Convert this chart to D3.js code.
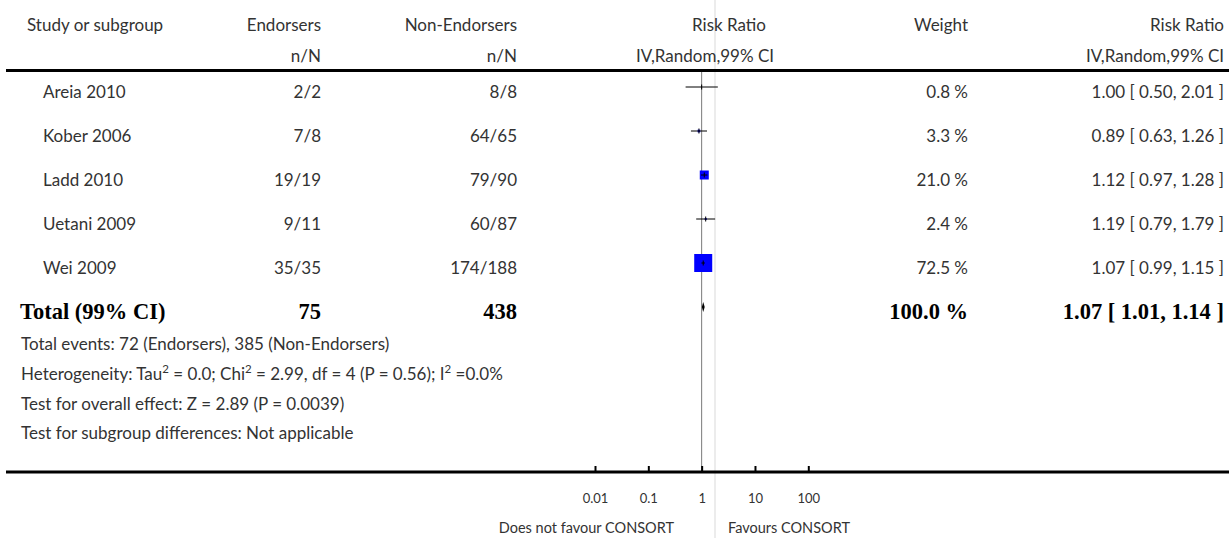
<!DOCTYPE html>
<html>
<head>
<meta charset="utf-8">
<script src="https://cdn.jsdelivr.net/npm/d3@7/dist/d3.min.js"></script>
<style>
  html, body { margin: 0; padding: 0; background: #fff; }
  svg { display: block; }
  .txt { font-family: Lato, "Open Sans", sans-serif; fill: #333; }
  .bold { font-family: "Liberation Serif", "Times New Roman", serif; font-weight: bold; fill: #000; }
</style>
</head>
<body>
<svg id="chart" width="1229" height="538"></svg>
<script>
// Study rows
const studies = ["Areia 2010", "Kober 2006", "Ladd 2010", "Uetani 2009", "Wei 2009"];
const endorsers = ["2/2", "7/8", "19/19", "9/11", "35/35"];
const nonEndorsers = ["8/8", "64/65", "79/90", "60/87", "174/188"];
const weights = [0.8, 3.3, 21.0, 2.4, 72.5];
const riskRatio = [1.00, 0.89, 1.12, 1.19, 1.07];
const ciLower = [0.50, 0.63, 0.97, 0.79, 0.99];
const ciUpper = [2.01, 1.26, 1.28, 1.79, 1.15];

// Pooled estimate
const totalLabel = "Total (99% CI)";
const totalEndorsers = 75;
const totalNonEndorsers = 438;
const totalWeight = 100.0;
const totalRR = 1.07;
const totalLower = 1.01;
const totalUpper = 1.14;

// Axis
const tickValues = [0.01, 0.1, 1, 10, 100];
const tickLabels = ["0.01", "0.1", "1", "10", "100"];

const svg = d3.select("#chart");
const W = 1229;
const FS = 17;      // body text size
const BFS = 22.5;   // bold total row size

// Column anchors
const colStudy = 43, colStudyHead = 27, colEnd = 321, colNon = 517, colWeight = 968, colRR = 1224;

const x = d3.scaleLog().domain([0.01, 100]).range([595, 808.3]);
const rows = studies.concat([totalLabel]);
const y = d3.scalePoint().domain(rows).range([87, 307]);

const fmt2 = d3.format(".2f");
const fmt1 = d3.format(".1f");
const ciText = (r, l, u) => `${fmt2(r)} [ ${fmt2(l)}, ${fmt2(u)} ]`;

// faint vertical rule
svg.append("line").attr("x1", 715).attr("x2", 715).attr("y1", 0).attr("y2", 538)
  .attr("stroke", "#ececec").attr("stroke-width", 2);

function txt(xp, yp, s, anchor, size, cls) {
  return svg.append("text").attr("class", cls || "txt").attr("x", xp).attr("y", yp)
    .attr("text-anchor", anchor || "start").attr("font-size", size || FS).text(s);
}

// Header
txt(colStudyHead, 31, "Study or subgroup");
txt(colEnd, 31, "Endorsers", "end");
txt(colNon, 31, "Non-Endorsers", "end");
txt(colEnd, 62, "n/N", "end");
txt(colNon, 62, "n/N", "end");
txt(729, 31, "Risk Ratio", "middle");
txt(705, 62, "IV,Random,99% CI", "middle");
txt(colWeight, 31, "Weight", "end");
txt(colRR, 31, "Risk Ratio", "end");
txt(colRR, 62, "IV,Random,99% CI", "end");

// Header rule
svg.append("line").attr("x1", 6).attr("x2", W).attr("y1", 70.5).attr("y2", 70.5)
  .attr("stroke", "#000").attr("stroke-width", 3.2);

// Reference line at RR = 1
svg.append("line").attr("x1", x(1)).attr("x2", x(1)).attr("y1", 72).attr("y2", 472)
  .attr("stroke", "#7a7a7a").attr("stroke-width", 1);

// Study rows
const textOff = 11;
studies.forEach((s, i) => {
  const yy = y(s);
  txt(colStudy, yy + textOff, s);
  txt(colEnd, yy + textOff, endorsers[i], "end");
  txt(colNon, yy + textOff, nonEndorsers[i], "end");
  txt(colWeight, yy + textOff, fmt1(weights[i]) + " %", "end");
  txt(colRR, yy + textOff, ciText(riskRatio[i], ciLower[i], ciUpper[i]), "end");
});

// Weight squares
const side = d3.scaleSqrt().domain([0.42, 72.5]).range([0, 18]).clamp(true);
svg.append("g").selectAll("rect").data(studies).join("rect")
  .attr("x", (d, i) => x(riskRatio[i]) - side(weights[i]) / 2)
  .attr("y", (d, i) => y(d) - side(weights[i]) / 2)
  .attr("width", (d, i) => side(weights[i]))
  .attr("height", (d, i) => side(weights[i]))
  .attr("fill", "#0000ff");

// CI lines and centre ticks
const ci = svg.append("g").attr("stroke", "#000").attr("stroke-width", 1);
ci.selectAll("line.ci").data(studies).join("line").attr("class", "ci")
  .attr("x1", (d, i) => x(ciLower[i])).attr("x2", (d, i) => x(ciUpper[i]))
  .attr("y1", d => y(d)).attr("y2", d => y(d));
ci.selectAll("line.pt").data(studies).join("line").attr("class", "pt")
  .attr("x1", (d, i) => x(riskRatio[i])).attr("x2", (d, i) => x(riskRatio[i]))
  .attr("y1", d => y(d) - 2.5).attr("y2", d => y(d) + 2.5);

// Pooled diamond
const ty = y(totalLabel);
svg.append("path")
  .attr("d", d3.line()([[x(totalLower), ty], [x(totalRR), ty - 5], [x(totalUpper), ty], [x(totalRR), ty + 5]]) + "Z")
  .attr("fill", "#000");

// Total row text
const bOff = 12;
txt(20, ty + bOff, totalLabel, "start", BFS, "bold");
txt(colEnd, ty + bOff, String(totalEndorsers), "end", BFS, "bold");
txt(colNon, ty + bOff, String(totalNonEndorsers), "end", BFS, "bold");
txt(colWeight, ty + bOff, fmt1(totalWeight) + " %", "end", BFS, "bold");
txt(colRR, ty + bOff, ciText(totalRR, totalLower, totalUpper), "end", BFS, "bold");

// Footer statistics
txt(21, 350, "Total events: 72 (Endorsers), 385 (Non-Endorsers)");
const het = svg.append("text").attr("class", "txt").attr("x", 21).attr("y", 380).attr("font-size", FS);
het.append("tspan").text("Heterogeneity: Tau");
het.append("tspan").attr("font-size", 11.5).attr("dy", -7).text("2");
het.append("tspan").attr("dy", 7).text(" = 0.0; Chi");
het.append("tspan").attr("font-size", 11.5).attr("dy", -7).text("2");
het.append("tspan").attr("dy", 7).text(" = 2.99, df = 4 (P = 0.56); I");
het.append("tspan").attr("font-size", 11.5).attr("dy", -7).text("2");
het.append("tspan").attr("dy", 7).text(" =0.0%");
txt(21, 410, "Test for overall effect: Z = 2.89 (P = 0.0039)");
txt(21, 439, "Test for subgroup differences: Not applicable");

// Bottom axis
svg.append("line").attr("x1", 6).attr("x2", W).attr("y1", 472).attr("y2", 472)
  .attr("stroke", "#000").attr("stroke-width", 3);
const axis = d3.axisBottom(x).tickValues(tickValues)
  .tickFormat((d, i) => tickLabels[i]).tickSizeInner(-6).tickSizeOuter(0).tickPadding(22);
const ag = svg.append("g").attr("transform", "translate(0,472)").call(axis);
ag.select(".domain").remove();
ag.selectAll(".tick line").attr("stroke", "#000").attr("stroke-width", 2);
ag.selectAll(".tick text").attr("font-family", "Lato, sans-serif").attr("font-size", 13).attr("fill", "#333");

txt(674, 533, "Does not favour CONSORT", "end", 14.5);
txt(728, 533, "Favours CONSORT", "start", 14.5);
</script>
</body>
</html>
